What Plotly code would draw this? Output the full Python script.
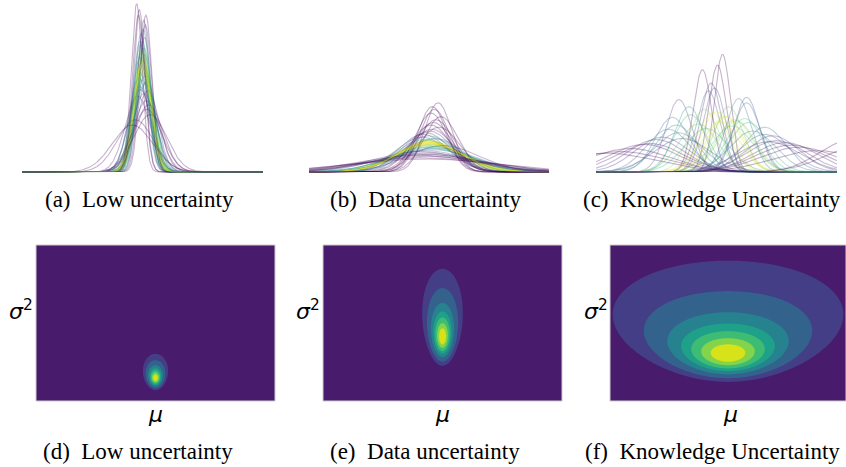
import numpy as np
import plotly.graph_objects as go
from plotly.colors import sample_colorscale, unlabel_rgb

W, H = 846, 467

# ---------------------------------------------------------------------------
# Top row: sampled Gaussian likelihoods, one (mean, std) pair per curve
# ---------------------------------------------------------------------------
mu_a = [0.02, -0.08, 0.11, -0.03, 0.05, 0.15, -0.12, 0.00, 0.07, -0.05,
        0.21, -0.18, 0.04, -0.01, 0.09, -0.10, 0.13, -0.06, 0.03, 0.26,
        -0.24, 0.06, -0.02, 0.10, -0.14, 0.01, 0.17, -0.09, 0.08, -0.04,
        0.31, -0.29, 0.12, -0.07, 0.02, 0.19, -0.16, 0.05, -0.11, 0.14,
        0.38, -0.35, 0.00, 0.07, -0.13, 0.22, -0.20, 0.04, -0.03, 0.10, -0.50]
sigma_a = [0.42, 0.40, 0.45, 0.38, 0.43, 0.47, 0.41, 0.36, 0.44, 0.39,
           0.52, 0.50, 0.33, 0.42, 0.46, 0.37, 0.49, 0.43, 0.40, 0.58,
           0.62, 0.31, 0.45, 0.35, 0.55, 0.41, 0.30, 0.48, 0.38, 0.44,
           0.70, 0.28, 0.53, 0.34, 0.47, 0.66, 0.29, 0.39, 0.57, 0.32,
           0.82, 0.90, 0.43, 0.60, 0.36, 0.75, 0.30, 0.46, 0.51, 0.40, 1.00]

mu_b = [0.05, -0.12, 0.20, -0.04, 0.10, -0.25, 0.15, 0.00, -0.08, 0.30,
        -0.18, 0.07, 0.02, -0.35, 0.25, -0.10, 0.12, -0.02, 0.40, -0.30,
        0.08, -0.15, 0.18, 0.03, -0.06, 0.50, -0.45, 0.14, -0.20, 0.22,
        0.01, -0.09, 0.35, -0.28, 0.06, 0.60, -0.55, 0.11, -0.13, 0.27,
        0.04, -0.38, 0.16, -0.01, 0.45, -0.22, 0.09, 0.70, -0.05, 0.19]
sigma_b = [1.60, 1.55, 1.70, 1.50, 1.65, 1.45, 1.80, 1.58, 1.62, 1.40,
           1.75, 1.52, 1.68, 1.35, 1.85, 1.48, 1.72, 1.30, 1.95, 1.25,
           2.00, 1.20, 2.10, 1.15, 1.90, 1.05, 2.30, 1.10, 2.20, 0.95,
           1.57, 2.45, 0.90, 2.60, 1.63, 0.85, 2.80, 0.80, 3.00, 0.75,
           1.66, 3.30, 0.72, 1.54, 0.68, 3.60, 1.00, 1.78, 2.70, 1.42]

mu_c = [0.3, 0.05, 1.5, -1.87, 0.5, -0.2, 2.4, -2.4, 0.9, -0.6,
        1.6, -1.37, -0.7, 2.8, -3.0, -0.27, -1.9, 1.4, -0.4, 3.4,
        -3.6, 0.0, 2.4, -2.0, 1.0, -1.3, 4.1, -4.3, 0.6, -0.9,
        1.8, -0.1, 3.0, -2.7, 0.4, 5.0, -4.8, 1.1, -1.7, 2.6,
        6.6, -5.5, 0.2, 7.2, -0.5, 1.5, -2.2, 3.7, -3.3, 0.8]
sigma_c = [0.40, 0.44, 0.63, 0.65, 0.85, 0.80, 1.05, 1.10, 0.90, 0.75,
           0.95, 0.72, 0.46, 1.30, 1.45, 0.53, 1.20, 0.88, 0.58, 1.60,
           1.70, 0.78, 1.25, 1.00, 0.92, 0.82, 1.90, 2.00, 0.72, 0.98,
           1.15, 0.56, 1.50, 1.35, 0.84, 2.20, 2.30, 0.64, 1.40, 1.55,
           1.50, 2.50, 0.94, 1.80, 1.08, 0.68, 0.86, 1.75, 1.65, 1.02]

# Normal-Inverse-Gamma (mu0, lambda, alpha, beta) used to shade the curves
nig_top = [(0.0, 12.0, 6.0, 1.35),
           (0.0, 28.0, 6.0, 19.2),
           (0.0, 0.31, 2.0, 2.45)]

# ---------------------------------------------------------------------------
# Bottom row: Normal-Inverse-Gamma densities (mu0, lambda, alpha, beta)
# ---------------------------------------------------------------------------
nig_bottom = [(0.0, 33.0, 5.0, 12.15),
              (0.0, 56.0, 2.6, 30.6),
              (0.0, 1.37, 0.7, 10.33)]

# density levels, as fractions of the peak, separating the filled bands
level_fracs = [0.124, 0.26, 0.45, 0.60, 0.72, 0.835, 0.926]
band_colors = ["#481b6d", "#433e85", "#33638d", "#26828e",
               "#1fa088", "#3fbc73", "#84d44b", "#d8e219"]

captions_top = ["(a)  Low uncertainty", "(b)  Data uncertainty",
                "(c)  Knowledge Uncertainty"]
captions_bottom = ["(d)  Low uncertainty", "(e)  Data uncertainty",
                   "(f)  Knowledge Uncertainty"]


def nig_logpdf(mu, s, mu0, lam, alpha, beta):
    # log density in (mu, sigma^2), up to a constant
    return -(alpha + 1.5) * np.log(s) - (2 * beta + lam * (mu - mu0) ** 2) / (2 * s)


def nig_rel(mu, s, params):
    mu0, lam, alpha, beta = params
    s_mode = beta / (alpha + 1.5)
    return np.exp(nig_logpdf(mu, s, *params) - nig_logpdf(mu0, s_mode, *params))


def dom_x(x0, x1):
    return [x0 / W, x1 / W]


def dom_y(y_top, y_bottom):
    return [1 - y_bottom / H, 1 - y_top / H]


fig = go.Figure()

top_x_px = [(22, 263), (309, 549), (596, 837)]
bot_x_px = [(36, 275), (323, 562), (610, 846)]
top_y_px = (0, 176)
bot_y_px = (245, 401)

xs = np.linspace(-6, 6, 601)
samples = [(mu_a, sigma_a), (mu_b, sigma_b), (mu_c, sigma_c)]
curve_alpha = 0.3

layout_axes = {}
for i, ((mus, sigmas), params) in enumerate(zip(samples, nig_top)):
    ax = i + 1
    mus = np.array(mus)
    sigmas = np.array(sigmas)
    shade = nig_rel(mus, sigmas ** 2, params)
    cols = sample_colorscale("Viridis", list(np.clip(shade, 0, 1)))
    for k in range(len(mus)):
        r, g, b = unlabel_rgb(cols[k])
        pdf = np.exp(-0.5 * ((xs - mus[k]) / sigmas[k]) ** 2) / (np.sqrt(2 * np.pi) * sigmas[k])
        fig.add_trace(go.Scatter(
            x=xs, y=pdf, mode="lines",
            line=dict(color=f"rgba({r:.0f},{g:.0f},{b:.0f},{curve_alpha})", width=1.1),
            hoverinfo="skip", showlegend=False,
            xaxis=f"x{ax}", yaxis=f"y{ax}"))
    sfx = "" if ax == 1 else str(ax)
    layout_axes[f"xaxis{sfx}"] = dict(domain=dom_x(*top_x_px[i]), range=[-6, 6],
                                      visible=False, anchor=f"y{ax}")
    layout_axes[f"yaxis{sfx}"] = dict(domain=dom_y(*top_y_px), range=[-0.034, 1.458],
                                      visible=False, anchor=f"x{ax}")

# density evaluated on a (mu, sigma) grid; sigma runs up the vertical axis
mu_grid = np.linspace(-5, 5, 501)
sd_grid = np.linspace(0.6, 5.8, 421)
MU, SD = np.meshgrid(mu_grid, sd_grid)
nlev = len(level_fracs)
colorscale = [[j / nlev, c] for j, c in enumerate(band_colors)]

shapes = []
for i, params in enumerate(nig_bottom):
    ax = i + 4
    rel = nig_rel(MU, SD ** 2, params)
    z = np.interp(rel, [0.0] + level_fracs + [1.0], np.arange(nlev + 2))
    fig.add_trace(go.Contour(
        x=mu_grid, y=sd_grid, z=z, autocontour=False,
        contours=dict(start=1, end=nlev, size=1, coloring="fill", showlines=False),
        line=dict(width=0, smoothing=0), colorscale=colorscale, showscale=False,
        hoverinfo="skip", xaxis=f"x{ax}", yaxis=f"y{ax}"))
    layout_axes[f"xaxis{ax}"] = dict(domain=dom_x(*bot_x_px[i]), range=[-5, 5],
                                     anchor=f"y{ax}", visible=False)
    layout_axes[f"yaxis{ax}"] = dict(domain=dom_y(*bot_y_px), range=[0.6, 5.8],
                                     anchor=f"x{ax}", visible=False)
    # light frame around each density panel
    shapes.append(dict(type="rect", xref=f"x{ax} domain", yref=f"y{ax} domain",
                       x0=0, x1=1, y0=0, y1=1, line=dict(color="#cccccc", width=1),
                       fillcolor="rgba(0,0,0,0)", layer="above"))

annotations = []
serif = dict(family="Liberation Serif, Times New Roman, serif", size=23, color="black")
sans = dict(family="DejaVu Sans, sans-serif", size=22, color="black")
cap_top_x = [139, 426, 712]
cap_bot_x = [138, 425, 712]
for txt, cx in zip(captions_top, cap_top_x):
    annotations.append(dict(text=txt, x=cx / W, y=1 - 199 / H, xref="paper", yref="paper",
                            showarrow=False, font=serif, xanchor="center", yanchor="middle"))
for txt, cx in zip(captions_bottom, cap_bot_x):
    annotations.append(dict(text=txt, x=cx / W, y=1 - 451 / H, xref="paper", yref="paper",
                            showarrow=False, font=serif, xanchor="center", yanchor="middle"))
for sx, mx in zip([21, 308, 596], [155, 442, 730]):
    annotations.append(dict(text="<i>σ</i><sup>2</sup>", x=sx / W, y=1 - 310 / H,
                            xref="paper", yref="paper", showarrow=False, font=sans,
                            xanchor="center", yanchor="middle"))
    annotations.append(dict(text="<i>μ</i>", x=mx / W, y=1 - 414 / H,
                            xref="paper", yref="paper", showarrow=False, font=sans,
                            xanchor="center", yanchor="middle"))

fig.update_layout(width=W, height=H, margin=dict(l=0, r=0, t=0, b=0),
                  paper_bgcolor="white", plot_bgcolor="white",
                  annotations=annotations, shapes=shapes, showlegend=False, **layout_axes)

fig.write_html("out.html")
